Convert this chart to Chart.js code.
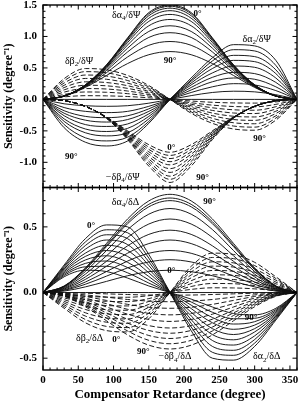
<!DOCTYPE html>
<html><head><meta charset="utf-8">
<script src="https://cdn.jsdelivr.net/npm/chart.js@4.4.1/dist/chart.umd.min.js"></script>
<style>html,body{margin:0;padding:0;background:#fff;}canvas{display:block;}</style>
</head><body>
<canvas id="c" width="301" height="405"></canvas>
<script>
// Compensator retardance grid (degree)
const retardance = [0,30,60,90,120,150,180,210,240,270,300,330,360];
const xTicks = [0,50,100,150,200,250,300,350];
const yTopTicks = [1.5,1.0,0.5,0.0,-0.5,-1.0];
const yBotTicks = [0.5,0.0,-0.5];

// ---- top panel: derivatives with respect to Psi ----
const alpha4Psi = [
 [0,.055,.23,.55,.98,1.38,1.50,1.38,.98,.55,.23,.055,0],
 [0,.055,.23,.545,.97,1.36,1.48,1.36,.97,.545,.23,.055,0],
 [0,.055,.228,.54,.955,1.33,1.45,1.33,.955,.54,.228,.055,0],
 [0,.054,.226,.53,.935,1.29,1.41,1.29,.935,.53,.226,.054,0],
 [0,.054,.222,.52,.905,1.24,1.35,1.24,.905,.52,.222,.054,0],
 [0,.053,.218,.505,.865,1.17,1.27,1.17,.865,.505,.218,.053,0],
 [0,.053,.213,.485,.815,1.08,1.17,1.08,.815,.485,.213,.053,0],
 [0,.052,.207,.46,.755,.985,1.06,.985,.755,.46,.207,.052,0],
 [0,.052,.2,.425,.675,.86,.92,.86,.675,.425,.2,.052,0],
 [0,.051,.19,.38,.57,.71,.76,.71,.57,.38,.19,.051,0]
];
const alpha2Psi = [
 [0,0,0,0,0,0,0,0,0,0,0,0,0],
 [0,-.07,-.10,-.11,-.10,-.06,0,.06,.11,.13,.12,.075,0],
 [0,-.13,-.19,-.21,-.19,-.11,0,.11,.20,.25,.23,.14,0],
 [0,-.18,-.27,-.29,-.26,-.15,0,.15,.28,.34,.32,.20,0],
 [0,-.22,-.33,-.36,-.32,-.19,0,.19,.35,.43,.41,.27,0],
 [0,-.26,-.40,-.43,-.39,-.23,0,.23,.42,.53,.51,.34,0],
 [0,-.31,-.47,-.51,-.46,-.27,0,.26,.49,.62,.60,.41,0],
 [0,-.35,-.53,-.58,-.53,-.31,0,.29,.55,.70,.68,.47,0],
 [0,-.40,-.61,-.66,-.60,-.35,0,.31,.61,.79,.77,.54,0],
 [0,-.45,-.68,-.74,-.66,-.38,0,.34,.66,.87,.85,.62,0]
];
const beta2Psi = [
 [0,.04,.059,.056,.046,.026,0,-.026,-.046,-.056,-.059,-.04,0],
 [0,.079,.118,.113,.091,.053,0,-.053,-.091,-.113,-.118,-.079,0],
 [0,.116,.172,.165,.133,.077,0,-.077,-.133,-.165,-.172,-.116,0],
 [0,.152,.225,.216,.175,.101,0,-.101,-.175,-.216,-.225,-.152,0],
 [0,.188,.279,.268,.217,.125,0,-.125,-.217,-.268,-.279,-.188,0],
 [0,.224,.333,.32,.258,.15,0,-.15,-.258,-.32,-.333,-.224,0],
 [0,.261,.387,.371,.30,.174,0,-.174,-.30,-.371,-.387,-.261,0],
 [0,.297,.441,.423,.342,.198,0,-.198,-.342,-.423,-.441,-.297,0],
 [0,.33,.49,.47,.38,.22,0,-.22,-.38,-.47,-.49,-.33,0]
];
const beta4Psi = [
 [0,-.02,-.11,-.28,-.50,-.72,-.84,-.72,-.50,-.28,-.11,-.02,0],
 [0,-.02,-.11,-.282,-.516,-.758,-.89,-.758,-.516,-.282,-.11,-.02,0],
 [0,-.02,-.11,-.284,-.531,-.795,-.94,-.795,-.531,-.284,-.11,-.02,0],
 [0,-.02,-.11,-.287,-.547,-.833,-.99,-.833,-.547,-.287,-.11,-.02,0],
 [0,-.02,-.11,-.289,-.562,-.871,-1.04,-.871,-.562,-.289,-.11,-.02,0],
 [0,-.02,-.11,-.291,-.578,-.909,-1.10,-.909,-.578,-.291,-.11,-.02,0],
 [0,-.02,-.11,-.293,-.593,-.947,-1.16,-.947,-.593,-.293,-.11,-.02,0],
 [0,-.02,-.11,-.296,-.609,-.984,-1.22,-.984,-.609,-.296,-.11,-.02,0],
 [0,-.02,-.11,-.298,-.624,-1.022,-1.27,-1.022,-.624,-.298,-.11,-.02,0],
 [0,-.02,-.11,-.30,-.64,-1.06,-1.32,-1.06,-.64,-.30,-.11,-.02,0]
];

// ---- bottom panel: derivatives with respect to Delta ----
const alpha4Delta = [
 [0,0,0,0,0,0,0,0,0,0,0,0,0],
 [0,.011,.043,.085,.128,.159,.17,.159,.128,.085,.043,.011,0],
 [0,.017,.063,.125,.188,.233,.25,.233,.188,.125,.063,.017,0],
 [0,.021,.08,.16,.24,.299,.32,.299,.24,.16,.08,.021,0],
 [0,.027,.10,.20,.30,.373,.40,.373,.30,.20,.10,.027,0],
 [0,.032,.119,.238,.356,.443,.475,.443,.356,.238,.119,.032,0],
 [0,.038,.14,.28,.42,.522,.56,.522,.42,.28,.14,.038,0],
 [0,.043,.16,.32,.48,.597,.64,.597,.48,.32,.16,.043,0],
 [0,.047,.175,.35,.525,.653,.70,.653,.525,.35,.175,.047,0],
 [0,.048,.18,.36,.54,.672,.72,.672,.54,.36,.18,.048,0],
 [0,.05,.187,.374,.561,.698,.748,.698,.561,.374,.187,.05,0]
];
const alpha2Delta = [
 [0,.21,.41,.515,.50,.29,0,-.29,-.50,-.515,-.41,-.21,0],
 [0,.20,.385,.478,.455,.262,0,-.262,-.455,-.478,-.385,-.20,0],
 [0,.19,.358,.44,.41,.234,0,-.234,-.41,-.44,-.358,-.19,0],
 [0,.18,.33,.40,.365,.206,0,-.206,-.365,-.40,-.33,-.18,0],
 [0,.17,.30,.36,.32,.178,0,-.178,-.32,-.36,-.30,-.17,0],
 [0,.16,.275,.32,.275,.15,0,-.15,-.275,-.32,-.275,-.16,0],
 [0,.15,.248,.28,.23,.122,0,-.122,-.23,-.28,-.248,-.15,0],
 [0,.14,.222,.24,.19,.096,0,-.096,-.19,-.24,-.222,-.14,0],
 [0,.13,.196,.20,.15,.072,0,-.072,-.15,-.20,-.196,-.13,0],
 [0,.12,.17,.16,.11,.05,0,-.05,-.11,-.16,-.17,-.12,0]
];
const beta2Delta = [
 [0,-.12,-.23,-.29,-.30,-.20,0,.20,.30,.29,.23,.12,0],
 [0,-.107,-.205,-.258,-.267,-.178,0,.178,.267,.258,.205,.107,0],
 [0,-.094,-.179,-.226,-.234,-.156,0,.156,.234,.226,.179,.094,0],
 [0,-.080,-.154,-.194,-.201,-.134,0,.134,.201,.194,.154,.080,0],
 [0,-.067,-.129,-.162,-.168,-.112,0,.112,.168,.162,.129,.067,0],
 [0,-.054,-.104,-.131,-.135,-.09,0,.09,.135,.131,.104,.054,0],
 [0,-.041,-.078,-.099,-.102,-.068,0,.068,.102,.099,.078,.041,0],
 [0,-.028,-.053,-.067,-.069,-.046,0,.046,.069,.067,.053,.028,0],
 [0,-.014,-.028,-.035,-.036,-.024,0,.024,.036,.035,.028,.014,0]
];
const beta4Delta = [
 [0,-.001,-.005,-.01,-.015,-.019,-.02,-.019,-.015,-.01,-.005,-.001,0],
 [0,-.005,-.018,-.035,-.053,-.065,-.07,-.065,-.053,-.035,-.018,-.005,0],
 [0,-.008,-.03,-.06,-.09,-.112,-.12,-.112,-.09,-.06,-.03,-.008,0],
 [0,-.011,-.043,-.085,-.128,-.159,-.17,-.159,-.128,-.085,-.043,-.011,0],
 [0,-.015,-.055,-.11,-.165,-.205,-.22,-.205,-.165,-.11,-.055,-.015,0],
 [0,-.018,-.068,-.135,-.203,-.252,-.27,-.252,-.203,-.135,-.068,-.018,0],
 [0,-.021,-.078,-.155,-.233,-.289,-.31,-.289,-.233,-.155,-.078,-.021,0],
 [0,-.023,-.088,-.175,-.263,-.327,-.35,-.327,-.263,-.175,-.088,-.023,0],
 [0,-.026,-.098,-.195,-.293,-.364,-.39,-.364,-.293,-.195,-.098,-.026,0],
 [0,-.029,-.108,-.215,-.323,-.401,-.43,-.401,-.323,-.215,-.108,-.029,0]
];

// annotation labels [text, retardance, value, panel, kind]
const labels = [
 ['δα_4/δΨ',118,1.34,'yTop','g'], ['0°',219,1.36,'yTop','d'], ['δα_2/δΨ',303,0.96,'yTop','g'],
 ['90°',180,0.62,'yTop','d'], ['δβ_2/δΨ',51,0.61,'yTop','g'], ['0°',182,-0.76,'yTop','d'],
 ['90°',40,-0.91,'yTop','d'], ['90°',307,-0.63,'yTop','d'], ['−δβ_4/δΨ',113,-1.24,'yTop','g'],
 ['90°',226,-1.24,'yTop','d'],
 ['δα_4/δΔ',117,0.69,'yBot','g'], ['90°',236,0.69,'yBot','d'], ['0°',68,0.51,'yBot','d'],
 ['0°',182,0.17,'yBot','d'], ['90°',295,-0.19,'yBot','d'], ['δβ_2/δΔ',66,-0.35,'yBot','g'],
 ['0°',104,-0.36,'yBot','d'], ['90°',142,-0.45,'yBot','d'], ['−δβ_4/δΔ',187,-0.49,'yBot','g'],
 ['δα_2/δΔ',317,-0.49,'yBot','g']
];

const SERIF = '"Liberation Serif","Times New Roman",serif';
const datasets = [];
function addFamily(arr, axis, dashed){
  arr.forEach(vals => datasets.push({
    data: retardance.map((x,i)=>({x:x, y:vals[i]})),
    yAxisID: axis, borderColor:'#111', borderWidth:0.95,
    borderDash: dashed ? [5,2.5] : [], pointRadius:0, fill:false,
    cubicInterpolationMode:'monotone'
  }));
}
addFamily(alpha4Psi,'yTop',false); addFamily(alpha2Psi,'yTop',false);
addFamily(beta2Psi,'yTop',true); addFamily(beta4Psi,'yTop',true);
addFamily(alpha4Delta,'yBot',false); addFamily(alpha2Delta,'yBot',false);
addFamily(beta2Delta,'yBot',true); addFamily(beta4Delta,'yBot',true);

function drawRich(ctx, str, cx, cy, size, bold){
  const parts=[];
  for(let i=0;i<str.length;i++){
    if(str[i]==='_'){parts.push({t:str[i+1],sub:true}); i++;}
    else if(parts.length && !parts[parts.length-1].sub) parts[parts.length-1].t+=str[i];
    else parts.push({t:str[i],sub:false});
  }
  const w0=bold?'bold ':'';
  const fN=w0+size+'px '+SERIF, fS=w0+Math.round(size*0.72)+'px '+SERIF;
  let w=0; parts.forEach(p=>{ctx.font=p.sub?fS:fN; p.w=ctx.measureText(p.t).width; w+=p.w;});
  let x=cx-w/2; ctx.textBaseline='middle'; ctx.textAlign='left';
  parts.forEach(p=>{ctx.font=p.sub?fS:fN; ctx.fillText(p.t,x,p.sub?cy+size*0.3:cy); x+=p.w;});
}

const framePlugin = {
  id:'frame',
  afterDatasetsDraw(chart){
    const {ctx, chartArea:ca} = chart;
    const x=chart.scales.x, yT=chart.scales.yTop, yB=chart.scales.yBot;
    ctx.save();
    ctx.strokeStyle='#000'; ctx.lineWidth=1.4;
    [yT,yB].forEach(s=>ctx.strokeRect(ca.left, s.top, ca.right-ca.left, s.bottom-s.top));
    ctx.lineWidth=1; ctx.beginPath();
    for(let v=0; v<=360; v+=10){
      const px=x.getPixelForValue(v), L=(v%50===0)?4.5:2.5;
      ctx.moveTo(px,yT.top); ctx.lineTo(px,yT.top+L);
      ctx.moveTo(px,yT.bottom-L); ctx.lineTo(px,yT.bottom+L);
      ctx.moveTo(px,yB.bottom); ctx.lineTo(px,yB.bottom-L);
    }
    function yt(s, lo, hi){
      for(let k=Math.ceil(lo*10-1e-6); k<=Math.floor(hi*10+1e-6); k++){
        const py=s.getPixelForValue(k/10), L=(k%5===0)?4.5:2.5;
        ctx.moveTo(ca.left,py); ctx.lineTo(ca.left+L,py);
        ctx.moveTo(ca.right,py); ctx.lineTo(ca.right-L,py);
      }
    }
    yt(yT, yT.min, yT.max); yt(yB, yB.min, yB.max);
    ctx.stroke();
    ctx.fillStyle='#000';
    labels.forEach(l=>{
      const s=chart.scales[l[3]];
      drawRich(ctx, l[0], x.getPixelForValue(l[1]), s.getPixelForValue(l[2]), l[4]==='g'?10:9, l[4]==='d');
    });
    ctx.restore();
  }
};

function yAxis(min,max,ticks,weight){
  return {
    type:'linear', position:'left', stack:'panels', stackWeight:1, weight:weight,
    min:min, max:max,
    afterBuildTicks(s){ s.ticks = ticks.map(v=>({value:v})); },
    afterFit(s){ s.width = 43; s.paddingTop = 0; s.paddingBottom = 0; },
    grid:{display:false, drawTicks:false}, border:{display:false},
    ticks:{color:'#000', padding:6, font:{family:SERIF, weight:'bold', size:11},
      callback:v=>v.toFixed(1)},
    title:{display:true, text:'Sensitivity (degree⁻¹)', color:'#000', padding:{top:2,bottom:0},
      font:{family:SERIF, weight:'bold', size:12}}
  };
}

new Chart(document.getElementById('c'), {
  type:'line',
  data:{datasets:datasets},
  options:{
    responsive:false, animation:false, devicePixelRatio:1,
    layout:{padding:{top:5,right:4,left:0,bottom:0}},
    plugins:{legend:{display:false}, tooltip:{enabled:false}},
    scales:{
      x:{type:'linear', min:0, max:360,
        afterBuildTicks(s){ s.ticks = xTicks.map(v=>({value:v})); },
        afterFit(s){ s.height = 35; s.paddingLeft = 0; s.paddingRight = 0; },
        grid:{display:false, drawTicks:false}, border:{display:false},
        ticks:{color:'#000', padding:4, maxRotation:0, autoSkip:false,
          font:{family:SERIF, weight:'bold', size:11}},
        title:{display:true, text:'Compensator Retardance (degree)', color:'#000',
          padding:{top:0,bottom:3}, font:{family:SERIF, weight:'bold', size:13}}
      },
      yTop: yAxis(-1.4,1.5,yTopTicks,2),
      yBot: yAxis(-0.59,0.8,yBotTicks,1)
    }
  },
  plugins:[framePlugin]
});
</script>
</body></html>
